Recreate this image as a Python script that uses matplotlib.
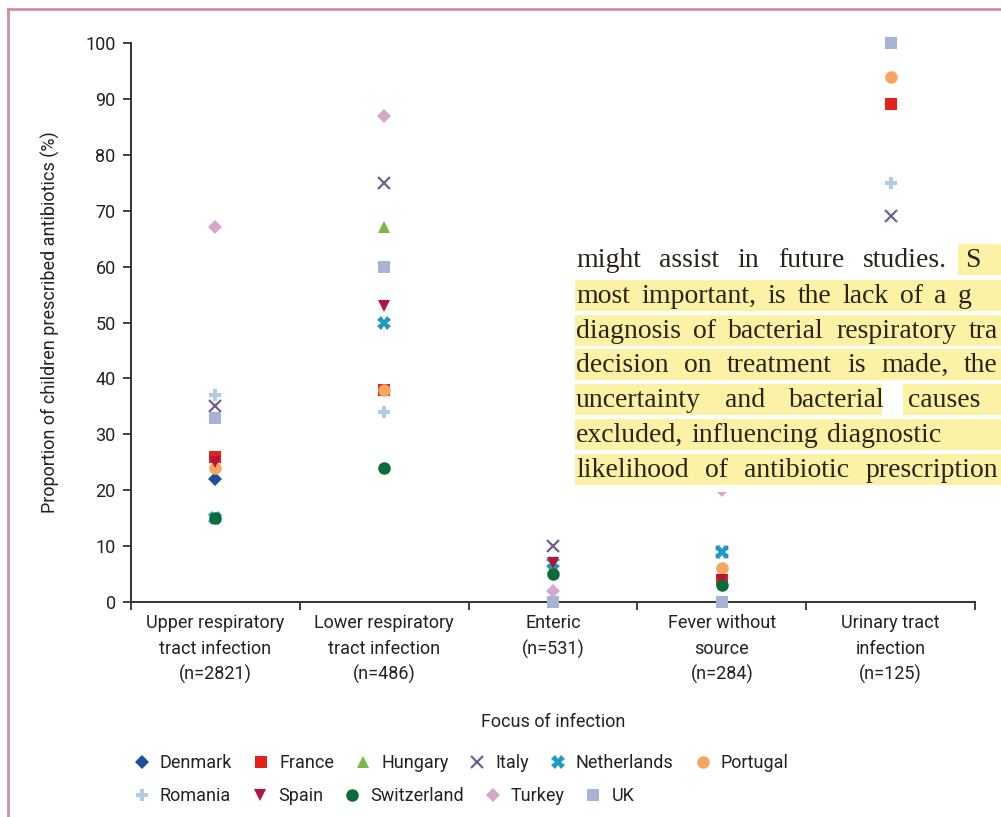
import numpy as np
import matplotlib.pyplot as plt
from matplotlib.lines import Line2D
from matplotlib.patches import Rectangle

nan = np.nan

# Focus of infection categories
categories = ["Upper respiratory\ntract infection\n(n=2821)",
              "Lower respiratory\ntract infection\n(n=486)",
              "Enteric\n(n=531)",
              "Fever without\nsource\n(n=284)",
              "Urinary tract\ninfection\n(n=125)"]

# Proportion of children prescribed antibiotics (%) per country
denmark = [22, nan, nan, nan, nan]
france = [26, 38, nan, 4, 89]
hungary = [nan, 67, 6, nan, nan]
italy = [35, 75, 10, 9, 69]
netherlands = [15, 50, 7, 9, nan]
portugal = [24, 38, nan, 6, 94]
romania = [37, 34, nan, nan, 75]
spain = [25, 53, 7, 4, nan]
switzerland = [15, 24, 5, 3, nan]
turkey = [67, 87, 2, 20, nan]
uk = [33, 60, 0, 0, 100]

countries = ["Denmark", "France", "Hungary", "Italy", "Netherlands", "Portugal",
             "Romania", "Spain", "Switzerland", "Turkey", "UK"]
values = [denmark, france, hungary, italy, netherlands, portugal,
          romania, spain, switzerland, turkey, uk]

styles = {
    "Denmark": dict(marker="D", color="#1d4f9a", ms=7.5),
    "France": dict(marker="s", color="#e2231a", ms=8.5),
    "Hungary": dict(marker="^", color="#7ab648", ms=9),
    "Italy": dict(marker="x", color="#6f6191", ms=9, mew=1.6),
    "Netherlands": dict(marker="X", color="#1b9bc2", ms=10),
    "Portugal": dict(marker="o", color="#f6a45e", ms=9),
    "Romania": dict(marker="P", color="#b3cbe3", ms=9),
    "Spain": dict(marker="v", color="#b5123c", ms=9),
    "Switzerland": dict(marker="o", color="#0b6b3a", ms=9),
    "Turkey": dict(marker="D", color="#d4a8cb", ms=7.5),
    "UK": dict(marker="s", color="#a8b4d6", ms=8.5),
}

W, H = 1001, 817


def fx(px):
    return px / W


def fy(py):
    return 1 - py / H


plt.rcParams['font.family'] = ['Roboto', 'DejaVu Sans']
fs = 13

fig = plt.figure(figsize=(W / 100, H / 100), dpi=100)
ax = fig.add_axes([fx(131), fy(602), fx(975) - fx(131), fy(43) - fy(602)])

x = np.arange(len(categories))
for name, vals in zip(countries, values):
    st = styles[name]
    ax.plot(x, vals, linestyle="none", marker=st["marker"], color=st["color"],
            ms=st["ms"], mew=st.get("mew", 0), clip_on=False, zorder=3)

ax.set_xlim(-0.5, len(categories) - 0.5)
ax.set_ylim(0, 100)
ax.set_yticks(np.arange(0, 101, 10))
ax.set_xticks(np.arange(-0.5, len(categories), 1))
ax.set_xticklabels([])
ax.set_xticks(x, minor=True)
ax.set_xticklabels(categories, minor=True, fontsize=fs, linespacing=1.5, color="#222222")
ax.tick_params(axis="x", which="minor", length=0, pad=9)
ax.tick_params(axis="both", which="major", length=6, width=1.3, color="#333333",
               labelsize=fs, labelcolor="#222222")
ax.tick_params(axis="y", pad=5)
for side in ["top", "right"]:
    ax.spines[side].set_visible(False)
for side in ["left", "bottom"]:
    ax.spines[side].set_linewidth(1.4)
    ax.spines[side].set_color("#333333")

ax.set_ylabel("Proportion of children prescribed antibiotics (%)", fontsize=fs,
              labelpad=18, color="#222222")
ax.set_xlabel("Focus of infection", fontsize=fs, labelpad=21, color="#222222")

# legend, two rows
handles = [Line2D([], [], linestyle="none", marker=styles[c]["marker"],
                  color=styles[c]["color"], ms=styles[c]["ms"],
                  mew=styles[c].get("mew", 0)) for c in countries]
for rows, yy in [((0, 6), 763), ((6, 11), 796)]:
    a, b = rows
    fig.legend(handles[a:b], countries[a:b], loc="center left",
               bbox_to_anchor=(fx(131), fy(yy)), ncol=b - a, frameon=False,
               fontsize=fs, handletextpad=0.4, columnspacing=1.0,
               handlelength=1.2, borderaxespad=0, borderpad=0, labelcolor="#222222")

# pink frame
fig.add_artist(Line2D([fx(8), fx(8)], [fy(9), fy(817)], color="#d98aa6", lw=2))
fig.add_artist(Line2D([fx(8), fx(1001)], [fy(9), fy(9)], color="#d98aa6", lw=2))

# overlaid page text with highlights
hl = "#fcf2a6"
fig.add_artist(Rectangle((fx(575), fy(492)), fx(1001) - fx(575), fy(238) - fy(492),
                         facecolor="white", edgecolor="none", zorder=5))
line_y = [259, 295, 330, 364, 399, 434, 469]
bands = [[(958, 1001)], [(575, 1001)], [(575, 1001)], [(575, 1001)],
         [(575, 882), (903, 1001)], [(575, 1001)], [(575, 1001)]]
for yy, segs in zip(line_y, bands):
    for a, b in segs:
        fig.add_artist(Rectangle((fx(a), fy(yy + 16)), fx(b) - fx(a), fy(yy - 15) - fy(yy + 16),
                                 facecolor=hl, edgecolor="none", zorder=6))

# justified page lines: ("start", x) = last word starts at x, ("end", x) = line ends at x
page_lines = [
    ("might assist in future studies. S", "start", 965),
    ("most important, is the lack of a g", "start", 958),
    ("diagnosis of bacterial respiratory tra", "end", 998),
    ("decision on treatment is made, the", "end", 998),
    ("uncertainty and bacterial causes", "start", 908),
    ("excluded, influencing diagnostic", "start", 827),
    ("likelihood of antibiotic prescription", "end", 998),
]
renderer = fig.canvas.get_renderer()
for yy, (line, mode, target) in zip(line_y, page_lines):
    kw = dict(fontsize=20, family="Liberation Serif", color="#2a2418",
              va="baseline", ha="left", zorder=7)
    parts = line.split()
    texts = [fig.text(0, fy(yy + 8), w, **kw) for w in parts]
    widths = [t.get_window_extent(renderer).width for t in texts]
    if mode == "end":
        gap = (target - 576 - sum(widths)) / (len(parts) - 1)
    else:
        gap = (target - 576 - sum(widths[:-1])) / (len(parts) - 1)
    pos = 576
    for t, wd in zip(texts, widths):
        t.set_x(fx(pos))
        pos += wd + gap

fig.savefig("out.png", dpi=100)
